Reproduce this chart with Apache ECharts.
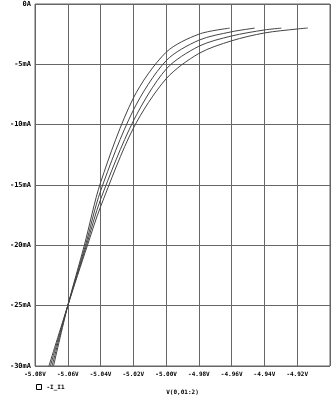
<!DOCTYPE html>
<html>
<head>
<meta charset="utf-8">
<script src="https://cdn.jsdelivr.net/npm/echarts@6/dist/echarts.min.js"></script>
<style>html,body{margin:0;padding:0;background:#fff}#c{width:334px;height:400px}</style>
</head>
<body>
<div id="c"></div>
<script>
// Voltage (V) and current (mA) samples for each of the four traces
var curve1V = [-5.0687, -5.0600, -5.0499, -5.0400, -5.0200, -5.0000, -4.9800, -4.9612];
var curve1I = [-30, -25, -20, -14.8, -7.8, -4.0, -2.5, -2.0];
var curve2V = [-5.0696, -5.0600, -5.0492, -5.0400, -5.0200, -5.0000, -4.9800, -4.9600, -4.9460];
var curve2I = [-30, -25, -20, -15.5, -8.8, -4.7, -3.0, -2.3, -2.0];
var curve3V = [-5.0706, -5.0600, -5.0486, -5.0400, -5.0200, -5.0000, -4.9800, -4.9600, -4.9400, -4.9297];
var curve3I = [-30, -25, -20, -16.2, -9.7, -5.4, -3.5, -2.65, -2.15, -2.0];
var curve4V = [-5.0715, -5.0600, -5.0480, -5.0400, -5.0200, -5.0000, -4.9800, -4.9600, -4.9400, -4.9200, -4.9135];
var curve4I = [-30, -25, -20, -16.8, -10.3, -6.2, -4.1, -3.05, -2.4, -2.07, -1.99];
var seriesName = '-I_I1';
var xAxisTitle = 'V(0,01:2)';

function pairs(v, i) { return v.map(function (x, k) { return [x, i[k]]; }); }
var curves = [[curve1V, curve1I], [curve2V, curve2I], [curve3V, curve3I], [curve4V, curve4I]];

var font = 'DejaVu Sans Mono';
var chart = echarts.init(document.getElementById('c'), null, {renderer: 'canvas'});
chart.setOption({
  animation: false,
  backgroundColor: '#fff',
  grid: {left: 35, right: 4, top: 4, bottom: 29, show: true, borderColor: '#666', borderWidth: 1},
  legend: {
    left: 36, top: 384, padding: 0, itemWidth: 5, itemHeight: 5, itemGap: 4,
    icon: 'rect',
    data: [{name: seriesName, itemStyle: {color: '#fff', borderColor: '#000', borderWidth: 1}}],
    textStyle: {fontFamily: font, fontSize: 6, color: '#000', fontWeight: 'bold'}
  },
  xAxis: {
    type: 'value', min: -5.08, max: -4.90, interval: 0.02,
    name: xAxisTitle, nameLocation: 'middle', nameGap: 23,
    nameTextStyle: {fontFamily: font, fontSize: 6, color: '#000', fontWeight: 'bold'},
    axisLine: {show: false}, axisTick: {show: false},
    splitLine: {show: true, lineStyle: {color: '#666', width: 1}},
    axisLabel: {
      margin: 5, fontFamily: font, fontSize: 6, color: '#000', fontWeight: 'bold', showMaxLabel: false,
      formatter: function (v) { return v.toFixed(2) + 'V'; }
    }
  },
  yAxis: {
    type: 'value', min: -30, max: 0, interval: 5,
    axisLine: {show: false}, axisTick: {show: false},
    splitLine: {show: true, lineStyle: {color: '#666', width: 1}},
    axisLabel: {
      margin: 4, fontFamily: font, fontSize: 7, color: '#000', fontWeight: 'bold',
      formatter: function (v) { return v === 0 ? '0A' : Math.round(v) + 'mA'; }
    }
  },
  series: curves.map(function (c) {
    return {
      name: seriesName, type: 'line', data: pairs(c[0], c[1]),
      showSymbol: false, smooth: 0.3,
      lineStyle: {color: '#444', width: 1}, itemStyle: {color: '#444'}
    };
  })
});
</script>
</body>
</html>
